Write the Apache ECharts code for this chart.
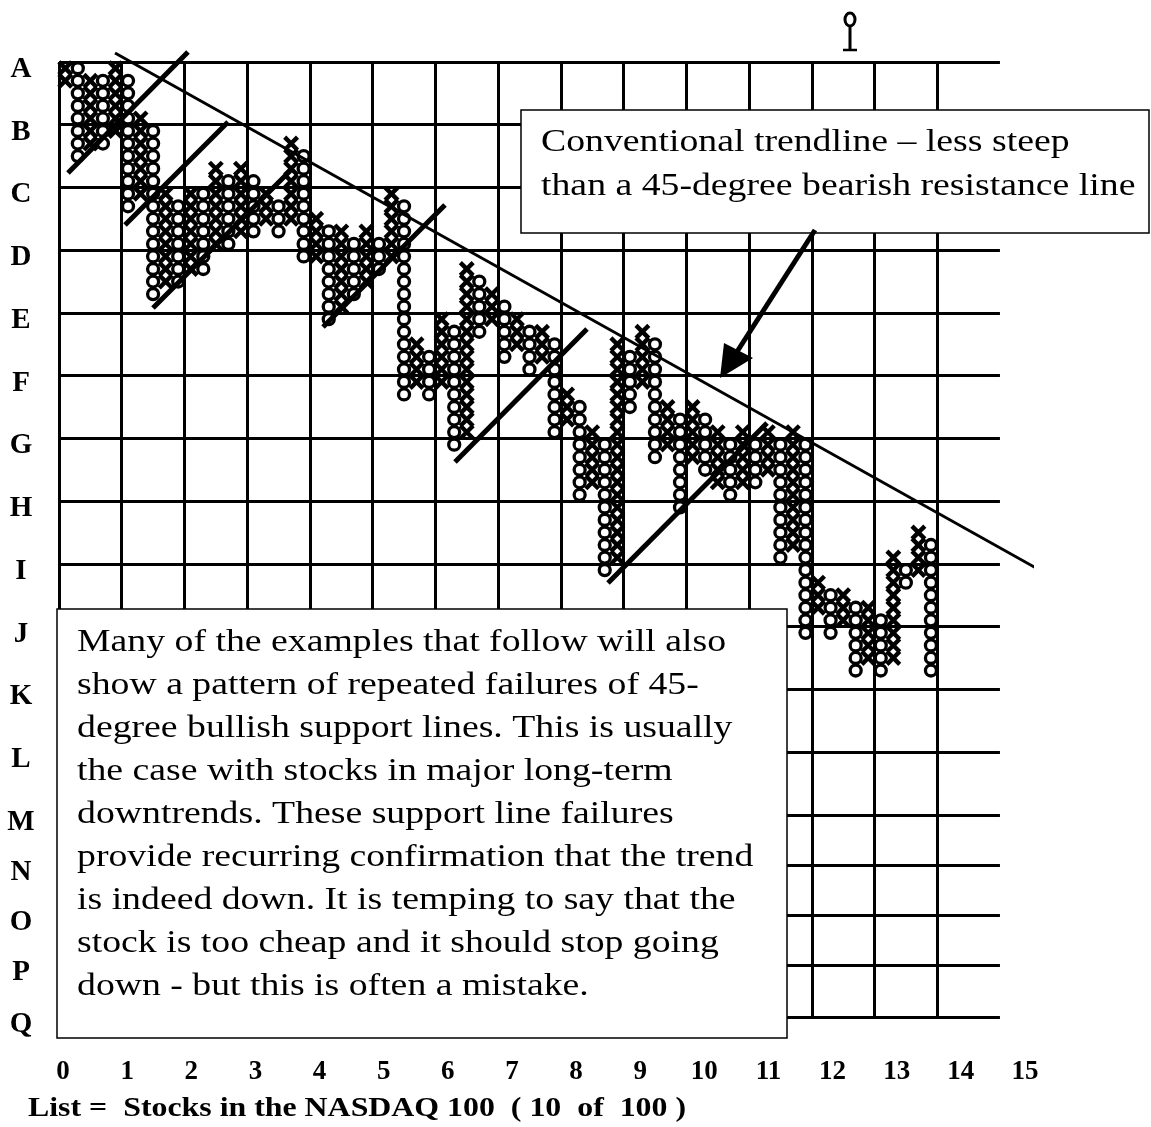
<!DOCTYPE html>
<html>
<head>
<meta charset="utf-8">
<title>Point and Figure</title>
<script src="https://cdn.jsdelivr.net/npm/echarts/dist/echarts.min.js"></script>
<style>
html,body{margin:0;padding:0;background:#fff;}
#chart{width:1151px;height:1127px;}
</style>
</head>
<body>
<div id="chart"></div>
<script>
// ---------- data ----------
const rowLabels = ['A','B','C','D','E','F','G','H','I','J','K','L','M','N','O','P','Q'];
const rowPos    = [0,1,2,3,4,5,6,7,8,9,10,11,12,12.8,13.6,14.4,15.23];
const xTickLabels = [0,1,2,3,4,5,6,7,8,9,10,11,12,13,14,15];
const gridCols = [0,1,2,3,4,5,6,7,8,9,10,11,12,13,14];

// point & figure columns (box rows counted from row A, 5 boxes per grid cell)
const colType   = ['X','O','X','O','X','O','X','O','X','O','X','O','X','O','X','O','X','O','X','O',
                   'X','O','X','O','X','O','X','O','X','O','X','O','X','O','X','O','X','O','X','O',
                   'X','O','X','O','X','O','X','O','X','O','X','O','X','O','X','O','X','O','X','O',
                   'X','O','X','O','X','O','X','O','X','O'];
const colTop    = [0,0,1,1,0,1,4,5,10,11,10,10,8,9,8,9,10,11,6,7,
                   12,13,13,14,13,14,10,11,22,23,20,21,16,17,18,19,20,21,21,22,
                   26,27,29,30,22,23,21,22,27,28,27,28,29,30,29,30,29,30,29,30,
                   41,42,42,43,43,44,39,40,37,38];
const colBottom = [1,7,6,6,5,11,10,18,17,17,16,16,14,14,13,13,12,13,12,15,
                   15,20,19,18,17,16,15,26,25,26,25,30,29,21,20,23,22,24,23,29,
                   28,34,33,40,39,27,25,31,30,35,31,32,33,34,33,33,32,39,38,45,
                   43,45,44,48,47,48,47,41,40,48];

// annotation lines in axis units [x1, y1, x2, y2]
const trendLine = [0.893, -0.143, 16.26, 8.449];
const supportLines = [
  [0.143, 1.770, 2.056, -0.159],
  [1.052, 2.598, 2.694, 0.956],
  [1.498, 3.922, 3.730, 1.690],
  [4.209, 4.224, 6.153, 2.280],
  [6.313, 6.377, 8.417, 4.256],
  [8.752, 8.305, 11.287, 5.755]
];

const note1 = 'Conventional trendline \u2013 less steep\nthan a 45-degree bearish resistance line';
const note2 = 'Many of the examples that follow will also\nshow a pattern of repeated failures of 45-\ndegree bullish support lines. This is usually\nthe case with stocks in major long-term\ndowntrends. These support line failures\nprovide recurring confirmation that the trend\nis indeed down. It is temping to say that the\nstock is too cheap and it should stop going\ndown - but this is often a mistake.';
const footer = 'List =  Stocks in the NASDAQ 100  ( 10  of  100 )';

// ---------- build ----------
const boxes = [];
colType.forEach(function(t, c){
  for (let r = colTop[c]; r <= colBottom[c]; r++) {
    boxes.push([(c + 0.5) / 5, (r + 0.5) / 5, t === 'O' ? 1 : 0]);
  }
});

const gridMark = [];
gridCols.forEach(function(i){
  gridMark.push([{coord:[i, 0]}, {coord:[i, rowPos[rowPos.length-1]]}]);
});
rowPos.forEach(function(v){
  gridMark.push([{coord:[0, v]}, {coord:[15, v]}]);
});

const U = 62.73;
const serif = 'Liberation Serif';

function lineSeries(seg, width){
  return {
    type:'line', data:[[seg[0],seg[1]],[seg[2],seg[3]]], clip:false,
    symbol:'none', z:4, silent:true,
    lineStyle:{color:'#000', width:width, cap:'butt'}
  };
}

const series = [
  {
    type:'line', data:[], z:1, silent:true,
    markLine:{
      silent:true, symbol:['none','none'], animation:false,
      label:{show:false},
      lineStyle:{color:'#000', width:3, type:'solid'},
      emphasis:{disabled:true},
      data:gridMark
    }
  },
  {
    type:'custom', z:2, silent:true, data:boxes,
    renderItem:function(params, api){
      const p = api.coord([api.value(0), api.value(1)]);
      if (api.value(2) === 1) {
        return {type:'circle', shape:{cx:p[0], cy:p[1], r:5.5},
                style:{fill:'#fff', stroke:'#000', lineWidth:3.3}};
      }
      const h = 6.4;
      return {type:'group', children:[
        {type:'line', shape:{x1:p[0]-h,y1:p[1]-h,x2:p[0]+h,y2:p[1]+h}, style:{stroke:'#000', lineWidth:4.4}},
        {type:'line', shape:{x1:p[0]+h,y1:p[1]-h,x2:p[0]-h,y2:p[1]+h}, style:{stroke:'#000', lineWidth:4.4}}
      ]};
    }
  },
  lineSeries(trendLine, 3)
].concat(supportLines.map(function(s){ return lineSeries(s, 5); }));

const chart = echarts.init(document.getElementById('chart'));
chart.setOption({
  animation:false,
  backgroundColor:'#fff',
  grid:{left:59, top:62, width:15.5*U, height:15.23*U},
  xAxis:{
    type:'value', min:0, max:15.5,
    axisLine:{show:false}, axisTick:{show:false}, splitLine:{show:false},
    axisLabel:{
      customValues: xTickLabels.map(function(i){ return 0.064 + 1.0223*i; }),
      formatter:function(v){ return String(xTickLabels[Math.round((v-0.064)/1.0223)]); },
      margin:41, color:'#000', fontFamily:serif, fontWeight:'bold', fontSize:27
    }
  },
  yAxis:{
    type:'value', min:0, max:15.23, inverse:true,
    axisLine:{show:false}, axisTick:{show:false}, splitLine:{show:false},
    axisLabel:{
      customValues: rowPos,
      formatter:function(v){
        let best = 0;
        rowPos.forEach(function(p, i){ if (Math.abs(p - v) < Math.abs(rowPos[best] - v)) best = i; });
        return rowLabels[best];
      },
      align:'center', verticalAlign:'top', lineHeight:15, margin:38,
      color:'#000', fontFamily:serif, fontWeight:'bold', fontSize:29
    }
  },
  series:series,
  graphic:[
    {type:'rect', z:100, shape:{x:521, y:110, width:628, height:123},
     style:{fill:'#fff', stroke:'#000', lineWidth:1.5}},
    {type:'text', z:101, x:541, y:121, scaleX:1.18,
     style:{text:note1, fontSize:32, fontFamily:serif, lineHeight:44, fill:'#000', verticalAlign:'top'}},
    {type:'rect', z:100, shape:{x:57, y:609, width:730, height:429},
     style:{fill:'#fff', stroke:'#000', lineWidth:1.5}},
    {type:'text', z:101, x:77, y:621, scaleX:1.18,
     style:{text:note2, fontSize:32, fontFamily:serif, lineHeight:43, fill:'#000', verticalAlign:'top'}},
    {type:'line', z:102, shape:{x1:815, y1:230, x2:733, y2:358},
     style:{stroke:'#000', lineWidth:5}},
    {type:'polygon', z:102, shape:{points:[[720,378],[724,343],[753,358]]},
     style:{fill:'#000'}},
    {type:'text', z:101, x:28, y:1096, scaleX:1.18,
     style:{text:footer, fontSize:27, fontWeight:'bold', fontFamily:serif, fill:'#000', verticalAlign:'top'}},
    {type:'ellipse', z:101, shape:{cx:850, cy:19.5, rx:5, ry:6.5},
     style:{fill:'none', stroke:'#000', lineWidth:3}},
    {type:'line', z:101, shape:{x1:850, y1:26, x2:850, y2:50},
     style:{stroke:'#000', lineWidth:3}},
    {type:'line', z:101, shape:{x1:843, y1:50, x2:857, y2:50},
     style:{stroke:'#000', lineWidth:2.5}}
  ]
});
</script>
</body>
</html>
